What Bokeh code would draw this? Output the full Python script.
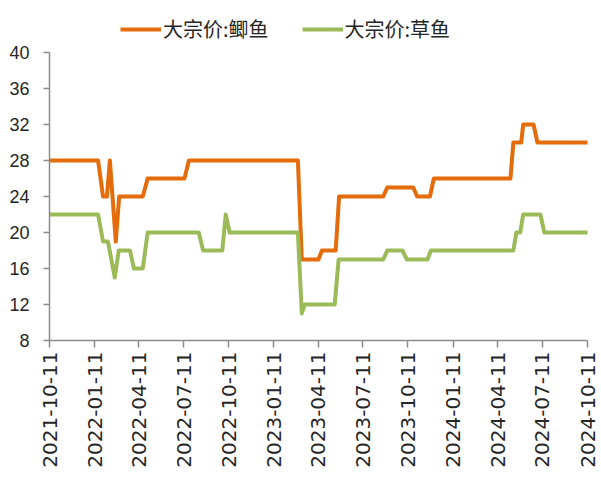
import pandas as pd
from math import pi
from bokeh.plotting import figure
from bokeh.layouts import column
from bokeh.models import Range1d, FixedTicker, DatetimeTickFormatter, Legend, LegendItem
from bokeh.embed import file_html
from bokeh.resources import INLINE

# ---- data ----
series_names = ["大宗价:鲫鱼", "大宗价:草鱼"]

crucian_dates = ["2021-10-11", "2022-01-18", "2022-01-28", "2022-02-05", "2022-02-11",
                 "2022-02-23", "2022-03-02", "2022-04-19", "2022-04-29", "2022-07-13",
                 "2022-07-22", "2023-03-01", "2023-03-09", "2023-04-12", "2023-04-19",
                 "2023-05-17", "2023-05-24", "2023-08-22", "2023-08-30", "2023-10-22",
                 "2023-10-30", "2023-11-25", "2023-12-03", "2024-05-07", "2024-05-13",
                 "2024-05-29", "2024-06-02", "2024-06-23", "2024-07-01", "2024-10-11"]
crucian_price = [28, 28, 24, 24, 28,
                 19, 24, 24, 26, 26,
                 28, 28, 17, 17, 18,
                 18, 24, 24, 25, 25,
                 24, 24, 26, 26, 30,
                 30, 32, 32, 30, 30]

grass_dates = ["2021-10-11", "2022-01-18", "2022-01-28", "2022-02-07", "2022-02-21",
               "2022-03-01", "2022-03-24", "2022-04-01", "2022-04-19", "2022-04-29",
               "2022-08-11", "2022-08-20", "2022-09-28", "2022-10-05", "2022-10-13",
               "2023-03-01", "2023-03-09", "2023-03-15", "2023-05-15", "2023-05-23",
               "2023-08-22", "2023-08-30", "2023-09-30", "2023-10-09", "2023-11-20",
               "2023-11-27", "2024-05-13", "2024-05-19", "2024-05-27", "2024-06-02",
               "2024-07-07", "2024-07-15", "2024-10-11"]
grass_price = [22, 22, 19, 19, 15,
               18, 18, 16, 16, 20,
               20, 18, 18, 22, 20,
               20, 11, 12, 12, 17,
               17, 18, 18, 17, 17,
               18, 18, 20, 20, 22,
               22, 20, 20]

tick_dates = ["2021-10-11", "2022-01-11", "2022-04-11", "2022-07-11", "2022-10-11",
              "2023-01-11", "2023-04-11", "2023-07-11", "2023-10-11", "2024-01-11",
              "2024-04-11", "2024-07-11", "2024-10-11"]
y_ticks = [8, 12, 16, 20, 24, 28, 32, 36, 40]


def to_dt(lst):
    return pd.to_datetime(lst)


def ms(d):
    return pd.Timestamp(d).value // 10**6


ORANGE = "#E46C0A"
GREEN = "#9BBB59"
AXIS = "#8C8C8C"
LW = 4
NAN = float("nan")

# ---- legend strip (top) ----
leg = figure(width=600, height=44, output_backend="svg", toolbar_location=None,
             x_range=Range1d(0, 1), y_range=Range1d(0, 1),
             min_border=0, min_border_left=0, min_border_right=0,
             min_border_top=0, min_border_bottom=0)
leg.axis.visible = False
leg.grid.visible = False
leg.outline_line_color = None
lr1 = leg.line(x=[NAN], y=[NAN], line_color=ORANGE, line_width=LW)
lr2 = leg.line(x=[NAN], y=[NAN], line_color=GREEN, line_width=LW)
legend = Legend(items=[LegendItem(label=series_names[0], renderers=[lr1]),
                       LegendItem(label=series_names[1], renderers=[lr2])],
                orientation="horizontal", location=(71, 1),
                glyph_width=41, glyph_height=20, label_standoff=2, spacing=33,
                padding=0, margin=0,
                label_text_font="Noto Sans CJK SC", label_text_font_size="20px",
                label_text_color="#262626",
                border_line_alpha=0, background_fill_alpha=0)
leg.add_layout(legend, "center")

# ---- main chart ----
p = figure(width=600, height=434, output_backend="svg", toolbar_location=None,
           x_axis_type="datetime",
           x_range=Range1d(ms(tick_dates[0]), ms(tick_dates[-1])),
           y_range=Range1d(y_ticks[0], y_ticks[-1]),
           min_border_left=49, min_border_right=13, min_border_top=8, min_border_bottom=138)
p.outline_line_color = None
p.border_fill_color = "white"
p.background_fill_color = "white"
p.xgrid.visible = False
p.ygrid.visible = False

p.line(to_dt(crucian_dates), crucian_price, line_color=ORANGE, line_width=LW,
       line_join="round", line_cap="round")
p.line(to_dt(grass_dates), grass_price, line_color=GREEN, line_width=LW,
       line_join="round", line_cap="round")

# y axis
ya = p.yaxis[0]
ya.ticker = FixedTicker(ticks=y_ticks)
ya.axis_line_color = AXIS
ya.axis_line_width = 1.5
ya.major_tick_line_color = AXIS
ya.major_tick_line_width = 1.5
ya.major_tick_in = 0
ya.major_tick_out = 6
ya.minor_tick_line_color = None
ya.major_label_text_font = "Liberation Sans"
ya.major_label_text_font_size = "18px"
ya.major_label_text_color = "#262626"
ya.major_label_standoff = 14

# x axis
xa = p.xaxis[0]
xa.ticker = FixedTicker(ticks=[ms(t) for t in tick_dates])
fmt = "%Y-%m-%d"
xa.formatter = DatetimeTickFormatter(milliseconds=fmt, seconds=fmt, minsec=fmt, minutes=fmt,
                                     hourmin=fmt, hours=fmt, days=fmt, months=fmt, years=fmt)
xa.major_label_orientation = pi / 2
xa.axis_line_color = AXIS
xa.axis_line_width = 1.5
xa.major_tick_line_color = AXIS
xa.major_tick_line_width = 1.5
xa.major_tick_in = 0
xa.major_tick_out = 7
xa.minor_tick_line_color = None
xa.major_label_text_font = "DejaVu Sans"
xa.major_label_text_font_size = "20px"
xa.major_label_text_color = "#262626"
xa.major_label_standoff = 4

layout = column(leg, p, spacing=0)
open("out.html", "w").write(file_html(layout, INLINE))
